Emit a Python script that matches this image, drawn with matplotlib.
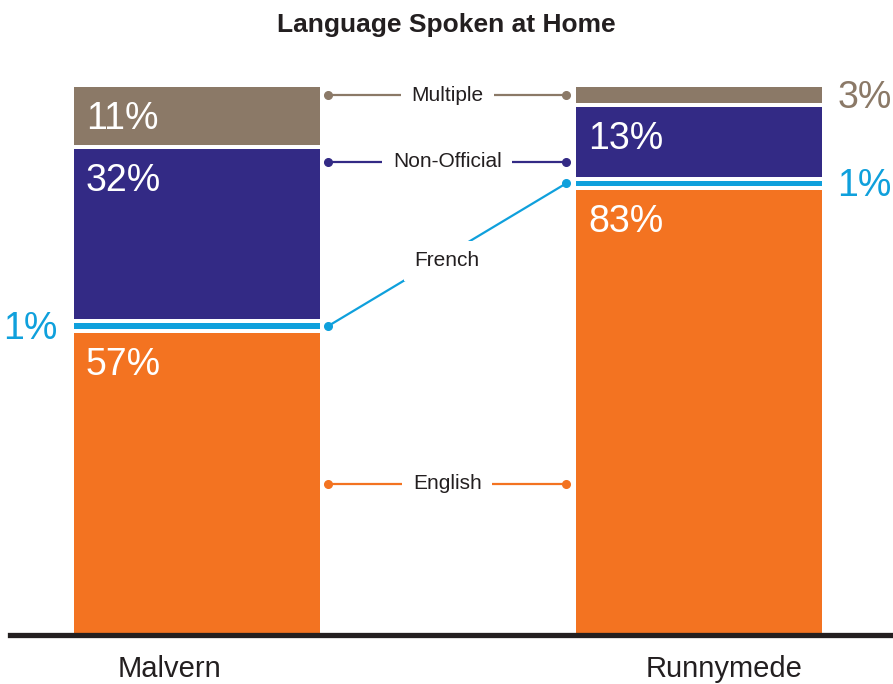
import matplotlib
matplotlib.use("Agg")
import matplotlib.pyplot as plt

plt.rcParams['font.family'] = ['Liberation Sans', 'DejaVu Sans']

# data
neighbourhoods = ["Malvern", "Runnymede"]
languages = ["English", "French", "Non-Official", "Multiple"]
malvern = [57, 1, 32, 11]
runnymede = [83, 1, 13, 3]
values = [malvern, runnymede]

colors = {"English": "#f37321", "French": "#0fa0dc",
          "Non-Official": "#332a85", "Multiple": "#8b7967"}
text_dark = "#231f20"

GAP = 0.75       # white gap between segments (in % units)
WIDTH = 0.49
SMALL = 5        # segments below this get their label outside the bar
TOTAL = 100 + 3 * GAP

fig = plt.figure(figsize=(8.93, 6.84), dpi=100)
ax = fig.add_axes([0, 49 / 684, 1, 548 / 684])

# stacked bars with white gaps (each bar scaled to fill 100%)
seg_bounds = []
for i, vals in enumerate(values):
    scale = 100 / sum(vals)
    bottom = 0
    bounds = {}
    for lang, v in zip(languages, vals):
        h = v * scale
        ax.bar(i, h, bottom=bottom, width=WIDTH, color=colors[lang], zorder=2)
        bounds[lang] = (bottom, bottom + h)
        bottom += h + GAP
    seg_bounds.append(bounds)

# percentage labels
for i, vals in enumerate(values):
    for lang, v in zip(languages, vals):
        lo, hi = seg_bounds[i][lang]
        if v >= SMALL:
            ax.annotate(f"{v}%", xy=(i - WIDTH / 2, hi), xytext=(12, -42),
                        textcoords="offset pixels", ha="left", va="baseline",
                        fontsize=27, color="white", zorder=3)
        else:
            mid = (lo + hi) / 2
            if i == 0:
                ax.annotate(f"{v}%", xy=(i - WIDTH / 2, mid), xytext=(-16, -13),
                            textcoords="offset pixels", ha="right", va="baseline",
                            fontsize=27, color=colors[lang], annotation_clip=False)
            else:
                ax.annotate(f"{v}%", xy=(i + WIDTH / 2, mid), xytext=(15, -13),
                            textcoords="offset pixels", ha="left", va="baseline",
                            fontsize=27, color=colors[lang], annotation_clip=False)

# connector legend between the bars
x0 = WIDTH / 2 + 0.017
x1 = 1 - WIDTH / 2 - 0.02
xm = (x0 + x1) / 2


def mid(i, lang):
    lo, hi = seg_bounds[i][lang]
    return (lo + hi) / 2


connectors = {
    "Multiple": (mid(1, "Multiple"), mid(1, "Multiple"), 0),
    "Non-Official": (88.3, 88.3, 0),
    "French": (mid(0, "French"), mid(1, "French"), -6),
    "English": (mid(0, "English"), mid(0, "English"), 0),
}
for lang, (y0, y1, dy) in connectors.items():
    ax.plot([x0, x1], [y0, y1], color=colors[lang], lw=1.6,
            marker="o", markersize=5.5, zorder=2, clip_on=False)
    ax.annotate(lang, xy=(xm, (y0 + y1) / 2), xytext=(0, dy),
                textcoords="offset pixels", ha="center", va="center",
                fontsize=15, color=text_dark, zorder=4,
                bbox=dict(boxstyle="square,pad=0.5", fc="white", ec="none"))

# baseline
ax.axhline(0, xmin=10 / 893, xmax=1, color=text_dark, lw=3.8, zorder=3,
           clip_on=False)

# category labels
offsets = [-27, 25]
for i, name in enumerate(neighbourhoods):
    ax.annotate(name, xy=(i, 0), xytext=(offsets[i], -42),
                textcoords="offset pixels", ha="center", va="baseline",
                fontsize=21, color=text_dark, annotation_clip=False)

ax.set_xlim(-0.392, 1.386)
ax.set_ylim(0, TOTAL)
ax.axis("off")

fig.text(0.5, 1 - 32 / 684, "Language Spoken at Home", ha="center",
         va="baseline", fontsize=19, fontweight="bold", color=text_dark)

fig.savefig("out.png", dpi=100)
